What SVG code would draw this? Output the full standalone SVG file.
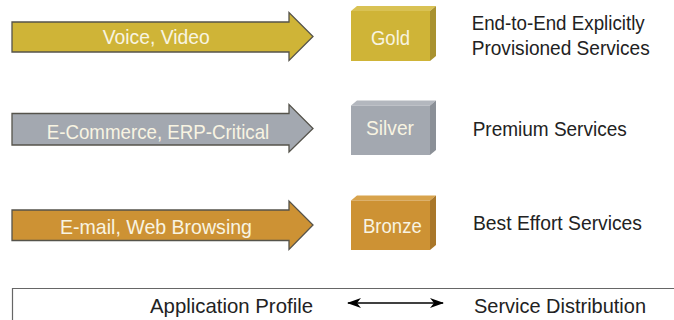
<svg xmlns="http://www.w3.org/2000/svg" width="674" height="320" viewBox="0 0 674 320">
  <style>
    .lbl { font-family: "Liberation Sans", Arial, sans-serif; font-size: 21px; fill: #f8f4e2; }
    .desc { font-family: "Liberation Sans", Arial, sans-serif; font-size: 21px; fill: #222222; }
    .arrow { stroke: #55534b; stroke-width: 1.3; stroke-linejoin: miter; }
    .gold { fill: #cfb437; }
    .gold-top { fill: #d9c254; }
    .gold-side { fill: #a99230; }
    .silver { fill: #a3a8b0; }
    .silver-top { fill: #b3b7be; }
    .silver-side { fill: #8b9097; }
    .bronze { fill: #cd9234; }
    .bronze-top { fill: #d8a34c; }
    .bronze-side { fill: #a9772a; }
  </style>
  <defs>
    <marker id="head" viewBox="0 0 14 10" refX="13" refY="5" markerWidth="14" markerHeight="10" markerUnits="userSpaceOnUse" orient="auto-start-reverse">
      <path d="M0,0 L14,5 L0,10 L4,5 Z" fill="#000"/>
    </marker>
  </defs>

  <!-- Application profile arrows -->
  <g id="app-voice">
    <path class="arrow gold" d="M12,22 H289 V12.5 L313,36.5 L289,60.5 V52 H12 Z"/>
    <text class="lbl" x="102.7" y="44" textLength="107" lengthAdjust="spacingAndGlyphs">Voice, Video</text>
  </g>
  <g id="app-ecommerce">
    <path class="arrow silver" d="M12,113.5 H289 V104.5 L313,128.5 L289,152 V145 H12 Z"/>
    <text class="lbl" x="46.7" y="138.5" textLength="222.6" lengthAdjust="spacingAndGlyphs">E-Commerce, ERP-Critical</text>
  </g>
  <g id="app-email">
    <path class="arrow bronze" d="M12,210 H289 V201 L313,225 L289,249.5 V240.5 H12 Z"/>
    <text class="lbl" x="60" y="233.5" textLength="192" lengthAdjust="spacingAndGlyphs">E-mail, Web Browsing</text>
  </g>

  <!-- Service class blocks -->
  <g id="svc-gold">
    <polygon class="gold-top" points="351,11 357,6 436,6 430,11"/>
    <polygon class="gold-side" points="430,11 436,6 436,56 430,61"/>
    <rect class="gold" x="351" y="11" width="79" height="50"/>
    <text class="lbl" x="371" y="44.5" textLength="39" lengthAdjust="spacingAndGlyphs">Gold</text>
  </g>
  <g id="svc-silver">
    <polygon class="silver-top" points="351,105.5 357,100.5 436,100.5 430,105.5"/>
    <polygon class="silver-side" points="430,105.5 436,100.5 436,150 430,155"/>
    <rect class="silver" x="351" y="105.5" width="79" height="49.5"/>
    <text class="lbl" x="366" y="135" textLength="48" lengthAdjust="spacingAndGlyphs">Silver</text>
  </g>
  <g id="svc-bronze">
    <polygon class="bronze-top" points="351,200.5 357,195.5 436,195.5 430,200.5"/>
    <polygon class="bronze-side" points="430,200.5 436,195.5 436,245 430,250"/>
    <rect class="bronze" x="351" y="200.5" width="79" height="49.5"/>
    <text class="lbl" x="363" y="233" textLength="58.7" lengthAdjust="spacingAndGlyphs">Bronze</text>
  </g>

  <!-- Service descriptions -->
  <g id="desc-gold">
    <text class="desc" x="471.7" y="30" textLength="173" lengthAdjust="spacingAndGlyphs">End-to-End Explicitly</text>
    <text class="desc" x="471.7" y="54.5" textLength="178" lengthAdjust="spacingAndGlyphs">Provisioned Services</text>
  </g>
  <g id="desc-silver">
    <text class="desc" x="472.7" y="136" textLength="154" lengthAdjust="spacingAndGlyphs">Premium Services</text>
  </g>
  <g id="desc-bronze">
    <text class="desc" x="473" y="230" textLength="169" lengthAdjust="spacingAndGlyphs">Best Effort Services</text>
  </g>

  <!-- Legend frame -->
  <g id="legend">
    <path d="M12.5,320 V288.5 H674" fill="none" stroke="#666" stroke-width="1.2"/>
    <text class="desc" x="150" y="313" textLength="163" lengthAdjust="spacingAndGlyphs">Application Profile</text>
    <text class="desc" x="474" y="313" textLength="172" lengthAdjust="spacingAndGlyphs">Service Distribution</text>
  </g>

  <!-- Connectors -->
  <g id="connectors">
    <line x1="348" y1="303" x2="443" y2="303" stroke="#000" stroke-width="1.5" marker-start="url(#head)" marker-end="url(#head)"/>
  </g>
</svg>
